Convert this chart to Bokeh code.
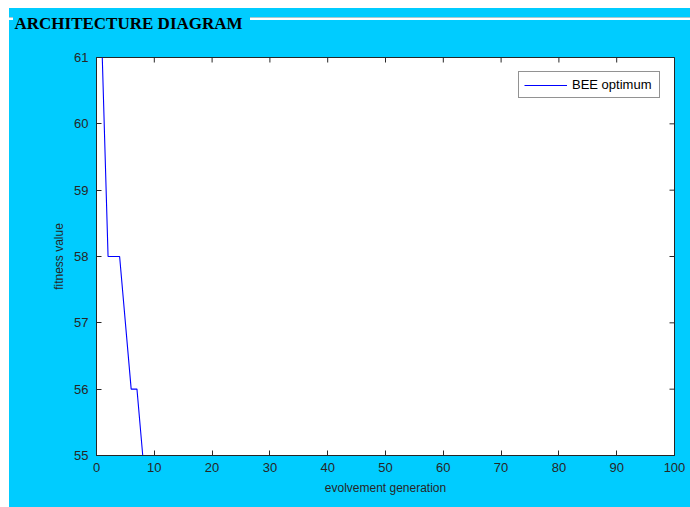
import math
from bokeh.plotting import figure
from bokeh.models import Range1d, FixedTicker, Spacer, Title
from bokeh.layouts import row, column
from bokeh.embed import file_html
from bokeh.resources import INLINE

# ---- data ----
TITLE = "ARCHITECTURE DIAGRAM"
SERIES_NAME = "BEE optimum"
X_LABEL = "evolvement generation"
Y_LABEL = "fitness value"
generation = list(range(1, 101))
fitness = [
    61, 58, 58, 58, 57, 56, 56, 55, 55, 55,
    55, 55, 55, 55, 55, 55, 55, 55, 55, 55,
    55, 55, 55, 55, 55, 55, 55, 55, 55, 55,
    55, 55, 55, 55, 55, 55, 55, 55, 55, 55,
    55, 55, 55, 55, 55, 55, 55, 55, 55, 55,
    55, 55, 55, 55, 55, 55, 55, 55, 55, 55,
    55, 55, 55, 55, 55, 55, 55, 55, 55, 55,
    55, 55, 55, 55, 55, 55, 55, 55, 55, 55,
    55, 55, 55, 55, 55, 55, 55, 55, 55, 55,
    55, 55, 55, 55, 55, 55, 55, 55, 55, 55,
]
x_ticks = [0, 10, 20, 30, 40, 50, 60, 70, 80, 90, 100]
y_ticks = [55, 56, 57, 58, 59, 60, 61]

CYAN = "#00CCFF"
AX = "#262626"
FONT = "Liberation Sans"
X0, X1 = 0, 100
Y0, Y1 = 55, 61

p = figure(width=681, height=499, x_range=Range1d(X0, X1), y_range=Range1d(Y0, Y1),
           toolbar_location=None, output_backend="svg",
           min_border_left=87, min_border_right=16, min_border_top=49, min_border_bottom=52)
p.background_fill_color = "white"
p.border_fill_color = CYAN
p.border_fill_alpha = 0
p.grid.visible = False
p.outline_line_color = AX
# group-box look: cyan panel with an etched white rule near the top,
# interrupted where the title sits
p.styles = {
    "background": "linear-gradient(#00CCFF, #00CCFF) 4px 0px / 237px 20px no-repeat, "
                  "linear-gradient(to bottom, #00CCFF 0px, #00CCFF 9.5px, #a9c9d0 9.5px, "
                  "#a9c9d0 10.5px, #ffffff 10.5px, #ffffff 11.8px, #00CCFF 11.8px, #00CCFF 100%)"
}

p.line(generation, fitness, line_color="#0000FF", line_width=1.1, legend_label=SERIES_NAME)

# inward ticks on the top and right edges of the box
p.scatter(x=x_ticks, y=[Y1] * len(x_ticks), marker="dash", angle=math.pi / 2, size=10,
          line_color=AX, line_width=1)
p.scatter(x=[X1] * len(y_ticks), y=y_ticks, marker="dash", angle=0, size=10,
          line_color=AX, line_width=1)

for ax in p.xaxis:
    ax.ticker = FixedTicker(ticks=x_ticks)
    ax.axis_label = X_LABEL
for ax in p.yaxis:
    ax.ticker = FixedTicker(ticks=y_ticks)
    ax.axis_label = Y_LABEL

for ax in list(p.xaxis) + list(p.yaxis):
    ax.axis_line_color = AX
    ax.major_tick_line_color = AX
    ax.major_tick_in = 5
    ax.major_tick_out = 0
    ax.minor_tick_line_color = None
    ax.major_label_text_font = FONT
    ax.major_label_text_font_size = "13px"
    ax.major_label_text_color = AX
    ax.axis_label_text_font = FONT
    ax.axis_label_text_font_size = "12px"
    ax.axis_label_text_font_style = "normal"
    ax.axis_label_text_color = AX

p.xaxis.major_label_standoff = 7
p.xaxis.axis_label_standoff = 6
p.yaxis.major_label_standoff = 8
p.yaxis.axis_label_standoff = 5

lg = p.legend[0]
lg.location = "top_right"
lg.margin = 14
lg.padding = 5
lg.spacing = 0
lg.glyph_width = 43
lg.glyph_height = 14
lg.label_standoff = 5
lg.label_width = 82
lg.label_text_font = FONT
lg.label_text_font_size = "13px"
lg.label_text_color = "black"
lg.border_line_color = AX
lg.border_line_width = 1
lg.background_fill_color = "white"
lg.background_fill_alpha = 1

# the trailing empty line lifts the title into the group-box rule
p.add_layout(Title(text=TITLE + "\n", align="left", offset=-82, standoff=0,
                   text_font="Liberation Serif", text_font_style="bold",
                   text_font_size="17px", text_color="black", text_line_height=1.3,
                   background_fill_color=None, padding=0), "above")

layout = row(Spacer(width=9, height=507),
             column(Spacer(width=681, height=8), p))

open("out.html", "w").write(file_html(layout, INLINE))
